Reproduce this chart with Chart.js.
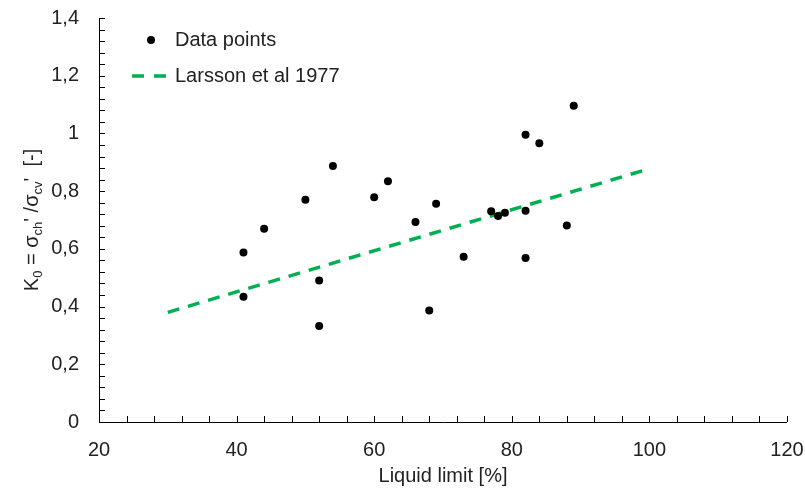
<!DOCTYPE html>
<html>
<head>
<meta charset="utf-8">
<script src="https://cdn.jsdelivr.net/npm/chart.js@4.4.1/dist/chart.umd.min.js"></script>
<style>
  html, body { margin: 0; padding: 0; background: #fff; }
  #caixa { width: 805px; height: 488px; }
</style>
</head>
<body>
<div id="caixa"><canvas id="graficoK0"></canvas></div>
<script>
// valores
const limiteLiquidez = [41, 41, 44, 50, 52, 52, 54, 60, 62, 66, 68, 69, 73, 77, 78, 79, 82, 82, 82, 84, 88, 89];
const valoresK0 = [0.587, 0.434, 0.670, 0.770, 0.490, 0.333, 0.887, 0.779, 0.834, 0.693, 0.386, 0.756,
                   0.573, 0.730, 0.714, 0.725, 0.995, 0.732, 0.568, 0.966, 0.681, 1.096];
const larssonX = [30, 100];
const larssonY = [0.38, 0.878];

const rotuloPontos = "Data points";
const rotuloLarsson = "Larsson et al 1977";
const tituloX = "Liquid limit [%]";

const eixoX = { min: 20, max: 120, passo: 20, passoMenor: 4 };
const eixoY = { min: 0, max: 1.4, passo: 0.2, passoMenor: 0.04 };

const fonte = '"Liberation Sans", Arial, sans-serif';
const corTexto = "#222";
const verde = "#00b050";

function formataVirgula(valor) {
    let v = Math.round(valor * 100) / 100;
    return String(v).replace(".", ",");
}

function desenhaTituloY(ctx, area) {
    // K0 = σch' /σcv'  [-]  com subscritos
    const partes = [
        { t: "K", sub: false },
        { t: "0", sub: true },
        { t: " = σ", sub: false },
        { t: "ch", sub: true },
        { t: "' /σ", sub: false },
        { t: "cv", sub: true },
        { t: "'  [-]", sub: false }
    ];
    const normal = "20px " + fonte;
    const pequena = "13px " + fonte;
    let total = 0;
    partes.forEach(p => {
        ctx.font = p.sub ? pequena : normal;
        total += ctx.measureText(p.t).width;
    });
    ctx.save();
    ctx.translate(38, (area.top + area.bottom) / 2);
    ctx.rotate(-Math.PI / 2);
    ctx.fillStyle = corTexto;
    ctx.textBaseline = "alphabetic";
    let x = -total / 2;
    partes.forEach(p => {
        ctx.font = p.sub ? pequena : normal;
        ctx.fillText(p.t, x, p.sub ? 4 : 0);
        x += ctx.measureText(p.t).width;
    });
    ctx.restore();
}

const pluginEixos = {
    id: "eixos",
    afterDraw(chart) {
        const ctx = chart.ctx;
        const area = chart.chartArea;
        const sx = chart.scales.x;
        const sy = chart.scales.y;
        const tam = 6;

        ctx.save();
        ctx.strokeStyle = "#000";
        ctx.lineWidth = 1;
        ctx.beginPath();
        ctx.moveTo(area.left + 0.5, area.top);
        ctx.lineTo(area.left + 0.5, area.bottom + 0.5);
        ctx.lineTo(area.right, area.bottom + 0.5);
        // marcas para dentro
        const nY = Math.round((eixoY.max - eixoY.min) / eixoY.passoMenor);
        for (let i = 0; i <= nY; i++) {
            let py = Math.round(sy.getPixelForValue(eixoY.min + i * eixoY.passoMenor)) + 0.5;
            ctx.moveTo(area.left, py);
            ctx.lineTo(area.left + tam, py);
        }
        const nX = Math.round((eixoX.max - eixoX.min) / eixoX.passoMenor);
        for (let i = 0; i <= nX; i++) {
            let px = Math.round(sx.getPixelForValue(eixoX.min + i * eixoX.passoMenor)) + 0.5;
            ctx.moveTo(px, area.bottom);
            ctx.lineTo(px, area.bottom - tam);
        }
        ctx.stroke();
        ctx.restore();

        desenhaTituloY(ctx, area);

        // legenda
        const ds = chart.data.datasets;
        ctx.save();
        ctx.font = "20px " + fonte;
        ctx.fillStyle = corTexto;
        ctx.textBaseline = "middle";
        ctx.fillText(ds[0].label, 175, 40);
        ctx.fillText(ds[1].label, 175, 76);
        ctx.fillStyle = "#000";
        ctx.beginPath();
        ctx.arc(151, 40, 4, 0, Math.PI * 2);
        ctx.fill();
        ctx.strokeStyle = verde;
        ctx.lineWidth = 3.5;
        ctx.setLineDash([12, 10]);
        ctx.beginPath();
        ctx.moveTo(132, 76);
        ctx.lineTo(166, 76);
        ctx.stroke();
        ctx.restore();
    }
};

const canvas = document.querySelector("#graficoK0");

const grafico = new Chart(canvas, {
    type: "scatter",
    data: {
        datasets: [
            {
                label: rotuloPontos,
                data: limiteLiquidez.map((x, i) => ({ x: x, y: valoresK0[i] })),
                backgroundColor: "#000",
                borderWidth: 0,
                pointRadius: 4,
                pointHoverRadius: 4
            },
            {
                label: rotuloLarsson,
                data: larssonX.map((x, i) => ({ x: x, y: larssonY[i] })),
                showLine: true,
                borderColor: verde,
                borderWidth: 3.5,
                borderDash: [12, 9],
                pointRadius: 0,
                fill: false
            }
        ]
    },
    options: {
        responsive: true,
        maintainAspectRatio: false,
        animation: false,
        layout: { padding: { top: 18, right: 18, bottom: 0, left: 0 } },
        plugins: {
            legend: { display: false },
            tooltip: { enabled: false }
        },
        scales: {
            x: {
                type: "linear",
                min: eixoX.min,
                max: eixoX.max,
                grid: { display: false, drawTicks: false },
                border: { display: false },
                ticks: {
                    stepSize: eixoX.passo,
                    padding: 16,
                    color: corTexto,
                    font: { family: fonte, size: 20 },
                    maxRotation: 0
                },
                title: {
                    display: true,
                    text: tituloX,
                    color: corTexto,
                    font: { family: fonte, size: 20 },
                    padding: { top: 0, bottom: 0 }
                },
                afterFit(scale) {
                    scale.height = 66;
                    scale.paddingLeft = 0;
                    scale.paddingRight = 0;
                }
            },
            y: {
                type: "linear",
                min: eixoY.min,
                max: eixoY.max,
                grid: { display: false, drawTicks: false },
                border: { display: false },
                ticks: {
                    stepSize: eixoY.passo,
                    padding: 20,
                    color: corTexto,
                    font: { family: fonte, size: 20 },
                    callback: valor => formataVirgula(valor)
                },
                afterFit(scale) {
                    scale.width = 99;
                    scale.paddingTop = 0;
                    scale.paddingBottom = 0;
                }
            }
        }
    },
    plugins: [pluginEixos]
});
</script>
</body>
</html>
